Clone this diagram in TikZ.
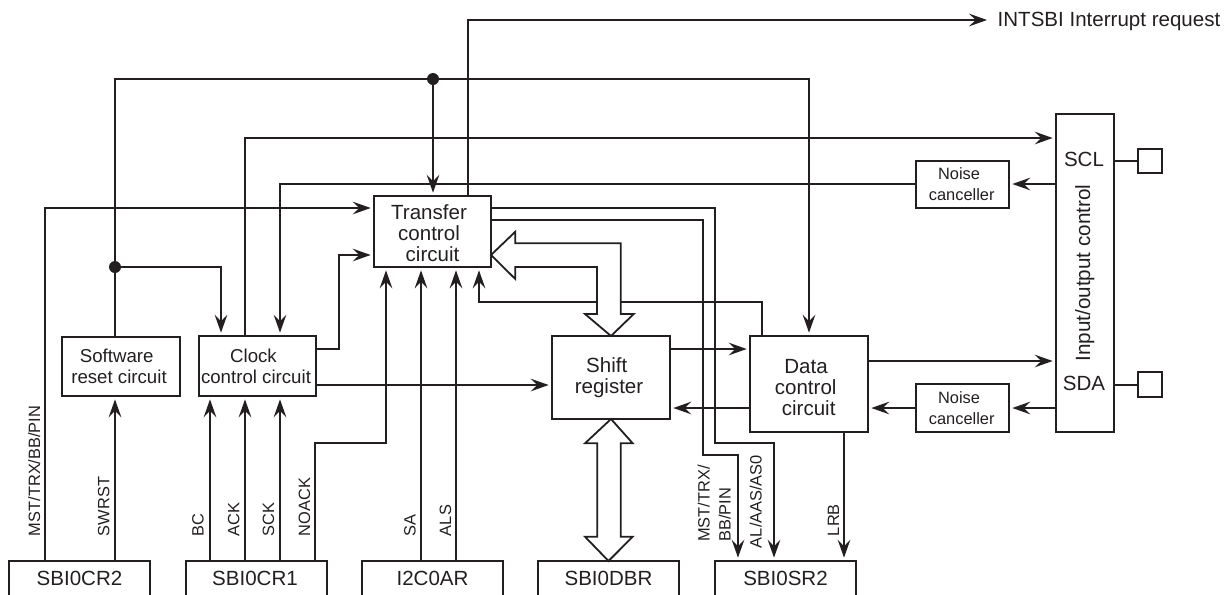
\documentclass[tikz,border=0pt]{standalone}
\usepackage{fontspec}
\setmainfont{Liberation Sans}
\usetikzlibrary{arrows.meta}
\definecolor{ink}{HTML}{231F20}
\newcommand\sh[1]{\hspace*{\dimexpr #1pt*3/2\relax}}
\newcommand\dn[1]{\rule{0pt}{\dimexpr 11pt+#1pt*3/2\relax}}
\newcommand\fbig{\fontsize{15.4}{15.75}\selectfont}
\newcommand\fmid{\fontsize{14}{15.75}\selectfont}
\newcommand\fsml{\fontsize{12.3}{15.75}\selectfont}
\tikzset{
  bx/.style={draw=ink,line width=1.1pt,inner sep=0pt,outer sep=0pt,align=center,text=ink,font=\fbig},
  bxm/.style={bx,font=\fmid},
  bxs/.style={bx,font=\fsml},
  wire/.style={draw=ink,line width=1.35pt},
  arr/.style={wire,-{Stealth[length=13.5pt,width=9.5pt,inset=5pt]},shorten >=2.5pt},
  bus/.style={draw=ink,line width=1.35pt,fill=white,line join=miter},
  dot/.style={circle,fill=ink,inner sep=0pt,minimum size=9pt},
  vlab/.style={rotate=90,anchor=base west,inner sep=0pt,outer sep=0pt,text=ink,font=\fsml},
  vlabm/.style={rotate=90,anchor=south west,inner sep=0pt,outer sep=0pt,text=ink,font=\fsml,align=left},
  tlab/.style={anchor=base,inner sep=0pt,outer sep=0pt,text=ink,font=\fbig},
}
\newcommand\bx[7][bx]{%
  \pgfmathsetmacro\bcx{(#3+#5)/2}\pgfmathsetmacro\bcy{(#4+#6)/2}%
  \pgfmathsetmacro\bwd{(#5-#3)*0.75}\pgfmathsetmacro\bht{(#6-#4)*0.75}%
  \node[#1,minimum width=\bwd pt,minimum height=\bht pt] (#2) at (\bcx,\bcy) {#7};}
\begin{document}
\begin{tikzpicture}[x=0.75pt,y=-0.75pt]
\useasboundingbox (0,0) rectangle (1227,594);
\clip (0,0) rectangle (1227,594);
% register boxes (run off the bottom edge)
\bx{cr2}{9}{561}{150}{596}{SBI0CR2}
\bx{cr1}{186}{561}{327}{596}{\sh{-1.5}SBI0CR1}
\bx{ar}{362}{561}{503}{596}{I2C0AR}
\bx{dbr}{538}{561}{679}{596}{SBI0DBR}
\bx{sr2}{715}{561}{856}{596}{SBI0SR2}
% function boxes
\bx[bxm]{swr}{62}{337}{180}{396}{\sh{-4.3}Software\\\sh{-2}reset circuit}
\bx[bxm]{clk}{199}{336}{316}{396}{\sh{-4}Clock\\\sh{-1.5}control circuit}
\bx{tc}{374}{196}{491}{267}{\dn{2}\sh{-3.5}Transfer\\\sh{-3.5}control\\circuit}
\bx{sft}{552}{336}{670}{419}{\sh{-4.3}Shift\\\sh{-2}register}
\bx{dc}{750}{336}{868}{432}{\dn{3.5}\sh{-3}Data\\\sh{-3.3}control\\\sh{-0.3}circuit}
\bx[bxs]{nc1}{916}{161}{1009}{208}{\sh{-3.5}Noise\\\sh{-0.8}canceller}
\bx[bxs]{nc2}{916}{384}{1009}{432}{\sh{-3.5}Noise\\\sh{-0.8}canceller}
\bx{io}{1056}{114}{1114}{432}{}
\bx{pscl}{1138}{149}{1162}{173}{}
\bx{psda}{1138}{372}{1162}{397}{}
\node[dot] (j1) at (433,79) {};
\node[dot] (j2) at (115,267) {};
\node[tlab,anchor=base west] (intl) at (997.7,26) {INTSBI Interrupt request};
% wires
\path[arr] (45,0 |- cr2.north) |- (tc.west |- 0,208);
\path[wire] (115,0 |- swr.north) -- (115,79) -- (j1);
\path[arr] (j1) -- (809,79) -- (809,0 |- dc.north);
\path[arr] (j1) -- (j1 |- tc.north);
\path[arr] (j2) -| (221,0 |- clk.north);
\path[arr] (115,0 |- cr2.north) -- (115,0 |- swr.south);
\path[arr] (245,0 |- clk.north) |- (io.west |- 0,138);
\path[arr] (nc1.west |- 0,184) -| (280,0 |- clk.north);
\path[arr] (io.west |- 0,184) -- (nc1.east |- 0,184);
\path[arr] (clk.east |- 0,349) -| (339,255) -- (tc.west |- 0,255);
\path[arr] (clk.east |- 0,385) -- (sft.west |- 0,385);
\path[arr] (315,0 |- cr1.north) |- (386,443) -- (386,0 |- tc.south);
\path[arr] (421,0 |- ar.north) -- (421,0 |- tc.south);
\path[arr] (456,0 |- ar.north) -- (456,0 |- tc.south);
\path[arr] (210,0 |- cr1.north) -- (210,0 |- clk.south);
\path[arr] (245,0 |- cr1.north) -- (245,0 |- clk.south);
\path[arr] (280,0 |- cr1.north) -- (280,0 |- clk.south);
\path[arr,shorten >=8pt] (468,0 |- tc.north) |- (intl.west |- 0,20);
\path[arr] (tc.east |- 0,208) -| (715,443) -| (774,0 |- sr2.north);
\path[arr] (tc.east |- 0,220) -| (703,455) -| (738,0 |- sr2.north);
\path[arr] (844,0 |- dc.south) -- (844,0 |- sr2.north);
\path[arr] (762,0 |- dc.north) |- (479,302) -- (479,0 |- tc.south);
\path[arr] (sft.east |- 0,349) -- (dc.west |- 0,349);
\path[arr] (dc.west |- 0,408) -- (sft.east |- 0,408);
\path[arr] (dc.east |- 0,361) -- (io.west |- 0,361);
\path[arr] (nc2.west) -- (dc.east |- nc2.west);
\path[arr] (io.west |- nc2.west) -- (nc2.east);
\path[wire] (io.east |- pscl.west) -- (pscl.west);
\path[wire] (io.east |- 0,385) -- (psda.west |- 0,385);
% buses
\path[bus] (tc.east |- 0,255) -- (515.3,231.7) -- (515.3,243.3) -- (620.7,243.3) -- (620.7,314) -- (633.7,314)
  -- (sft.north) -- (585,314) -- (597,314) -- (597,267) -- (515.3,267) -- (515.3,279) -- cycle;
\path[bus] (sft.south) -- (632.7,443.3) -- (620.7,443.3) -- (620.7,536.7) -- (632.7,536.7) -- (dbr.north)
  -- (585,536.7) -- (597.3,536.7) -- (597.3,443.3) -- (585,443.3) -- cycle;
% labels
\node[tlab] (scl) at (1084,166.7) {SCL};
\node[tlab] (sda) at (1084,390) {SDA};
\node[rotate=90,anchor=base,inner sep=0pt,text=ink,font=\fontsize{15.5}{16}\selectfont] (iol) at (1090,273) {Input/output control};
\node[vlab] (l1) at (40,536) {MST/TRX/BB/PIN};
\node[vlab] (l2) at (109.3,536) {SWRST};
\node[vlab] (l3) at (203.7,536) {BC};
\node[vlab] (l4) at (239.3,536) {ACK};
\node[vlab] (l5) at (274,536) {SCK};
\node[vlab] (l6) at (310,536) {NOACK};
\node[vlab] (l7) at (415.7,536) {SA};
\node[vlab] (l8) at (451,536) {ALS};
\node[vlabm] (l9) at (730.7,541.7) {MST/TRX/\\BB/PIN};
\node[vlab] (l10) at (761.7,548) {AL/AAS/AS0};
\node[vlab] (l11) at (839,536) {LRB};
\end{tikzpicture}
\end{document}
